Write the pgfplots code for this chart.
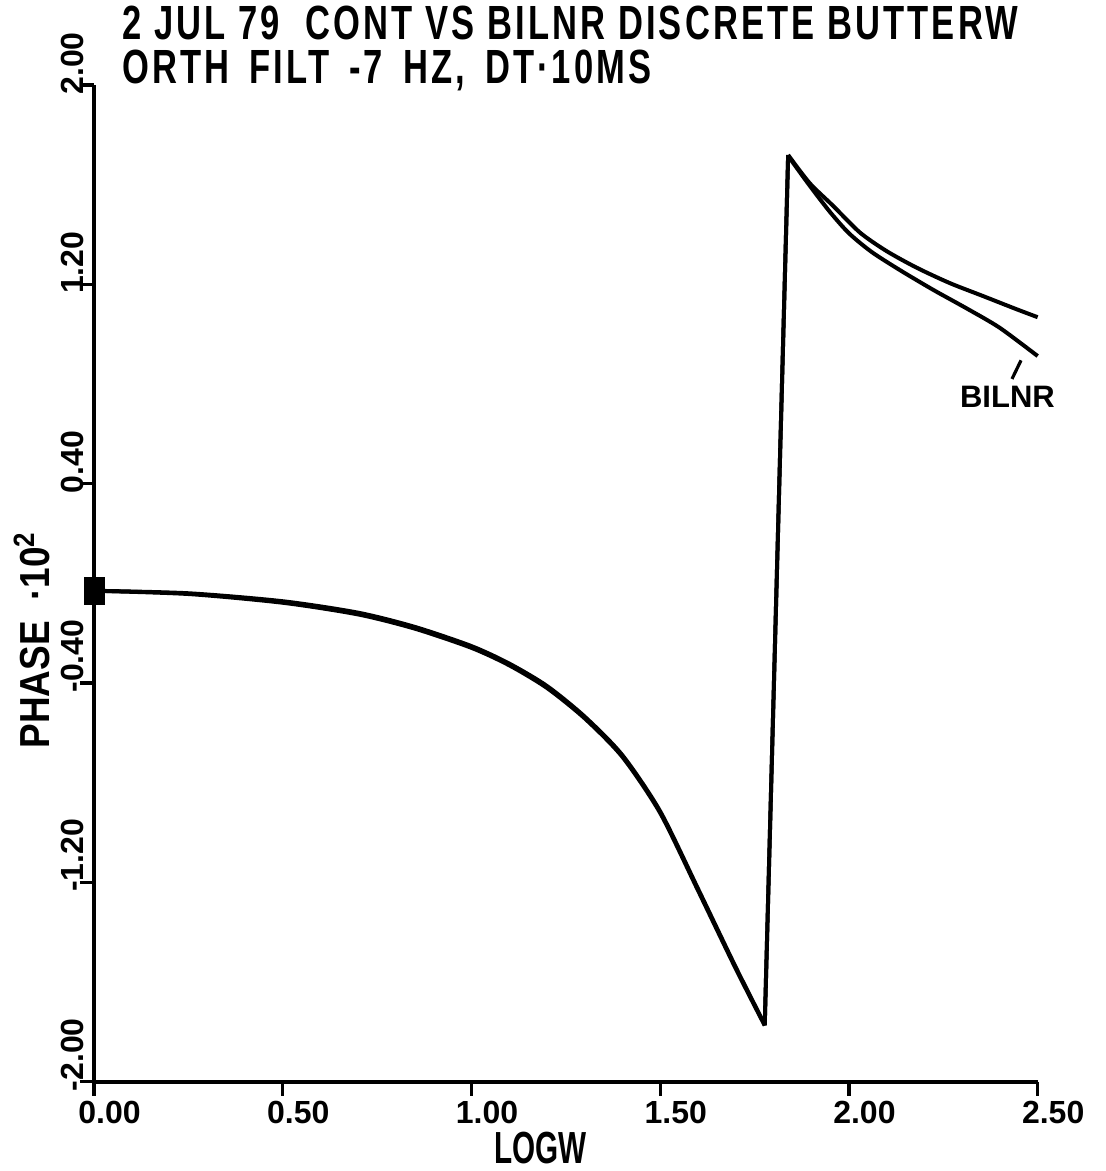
\documentclass[border=0pt]{standalone}
\usepackage{fontspec}
\setmainfont{Liberation Sans}
\newfontfamily\tfam[FakeStretch=0.72, LetterSpace=6.5]{Liberation Sans}
\newfontfamily\lfam[FakeStretch=0.66]{Liberation Sans}
\newfontfamily\pfam[FakeStretch=0.88]{Liberation Sans}
\newcommand\titlefont{\tfam\bfseries\fontsize{24}{24}\selectfont}
\newcommand\tickfont{\bfseries\fontsize{16}{16}\selectfont}
\newcommand\labfont{\lfam\bfseries\fontsize{22.5}{22.5}\selectfont}
\newcommand\ylabfont{\pfam\bfseries\fontsize{21}{21}\selectfont}
\newcommand\bilfont{\bfseries\fontsize{15.5}{15.5}\selectfont}
\usepackage{pgfplots}
\pgfplotsset{compat=1.18}
\begin{document}
\begin{tikzpicture}
\begin{axis}[
  name=ax, scale only axis, width=472pt, height=498.5pt,
  xmin=0, xmax=2.5, ymin=-2, ymax=2,
  axis x line*=bottom, axis y line*=left,
  axis line style={line width=2pt, black, -},
  clip=false,
  xtick={0,0.5,1,1.5,2,2.5},
  xticklabels={0.00,0.50,1.00,1.50,2.00,2.50},
  ytick={-2,-1.2,-0.4,0.4,1.2,2},
  yticklabels={-2.00,-1.20,-0.40,0.40,1.20,2.00},
  tick align=outside, major tick length=7pt,
  tick style={line width=1.6pt, black},
  xticklabel style={font=\tickfont, inner sep=0pt, anchor=north west, xshift=-8pt, yshift=-2.5pt},
  yticklabel style={font=\tickfont, inner sep=0pt, xshift=2pt, yshift=-5pt, rotate=90, anchor=south west},
  xlabel={LOGW},
  xlabel style={font=\labfont, at={(axis description cs:0.4735,-0.067)}, anchor=center},
  ylabel={PHASE\ \ ·10\textsuperscript{2}},
  ylabel style={font=\ylabfont, at={(axis description cs:-0.066,0.443)}, anchor=center},
]
% CONT
\addplot[black, line width=2pt, smooth, tension=0.45] coordinates {
(0,-0.030) (0.25,-0.040) (0.5,-0.072) (0.7,-0.118) (0.85,-0.175)
(1.0,-0.252) (1.1,-0.322) (1.2,-0.412) (1.3,-0.535) (1.4,-0.690)
(1.5,-0.915) (1.6,-1.225) (1.7,-1.540) (1.777,-1.771)
};
\addplot[black, line width=2pt, line join=round] coordinates {
(1.777,-1.771) (1.839,1.719)
};
\addplot[black, line width=2pt, smooth, tension=0.45] coordinates {
(1.839,1.719) (1.896,1.606) (1.958,1.515) (2.029,1.408) (2.099,1.334)
(2.179,1.267) (2.267,1.205) (2.355,1.153) (2.444,1.100) (2.500,1.068)
};
% BILNR
\addplot[black, line width=2pt, smooth, tension=0.45] coordinates {
(0,-0.030) (0.25,-0.043) (0.5,-0.078) (0.7,-0.125) (0.85,-0.182)
(1.0,-0.259) (1.1,-0.329) (1.2,-0.420) (1.3,-0.542) (1.4,-0.697)
(1.5,-0.922) (1.6,-1.232) (1.7,-1.546) (1.777,-1.775)
};
\addplot[black, line width=2pt, line join=round] coordinates {
(1.777,-1.775) (1.839,1.715)
};
\addplot[black, line width=2pt, smooth, tension=0.45] coordinates {
(1.839,1.715) (1.896,1.596) (1.950,1.490) (2.000,1.405) (2.060,1.330)
(2.134,1.258) (2.223,1.178) (2.311,1.104) (2.399,1.026) (2.500,0.912)
};
\addplot[only marks, mark=square*, mark size=5pt, mark options={yscale=1.35, black}] coordinates {(0,-0.03)};
\node[font=\bilfont, inner sep=0pt] at (axis cs:2.42,0.748) {BILNR};
\draw[line width=1.6pt] (axis cs:2.432,0.82) -- (axis cs:2.456,0.895);
\end{axis}
\node[anchor=base west, inner sep=0pt, font=\titlefont] at ([shift={(14pt,22.5pt)}]ax.north west) {2 JUL 79\ \ CONT VS BILNR DISCRETE BUTTERW};
\node[anchor=base west, inner sep=0pt, font=\titlefont] at ([shift={(14pt,0.5pt)}]ax.north west) {ORTH\hspace{10pt}FILT\hspace{10pt}-7\hspace{10pt}HZ,\hspace{10pt}DT·10MS};
\path ([shift={(-47pt,-44.5pt)}]ax.south west) rectangle ([shift={(506pt,541pt)}]ax.south west);
\end{tikzpicture}
\end{document}
